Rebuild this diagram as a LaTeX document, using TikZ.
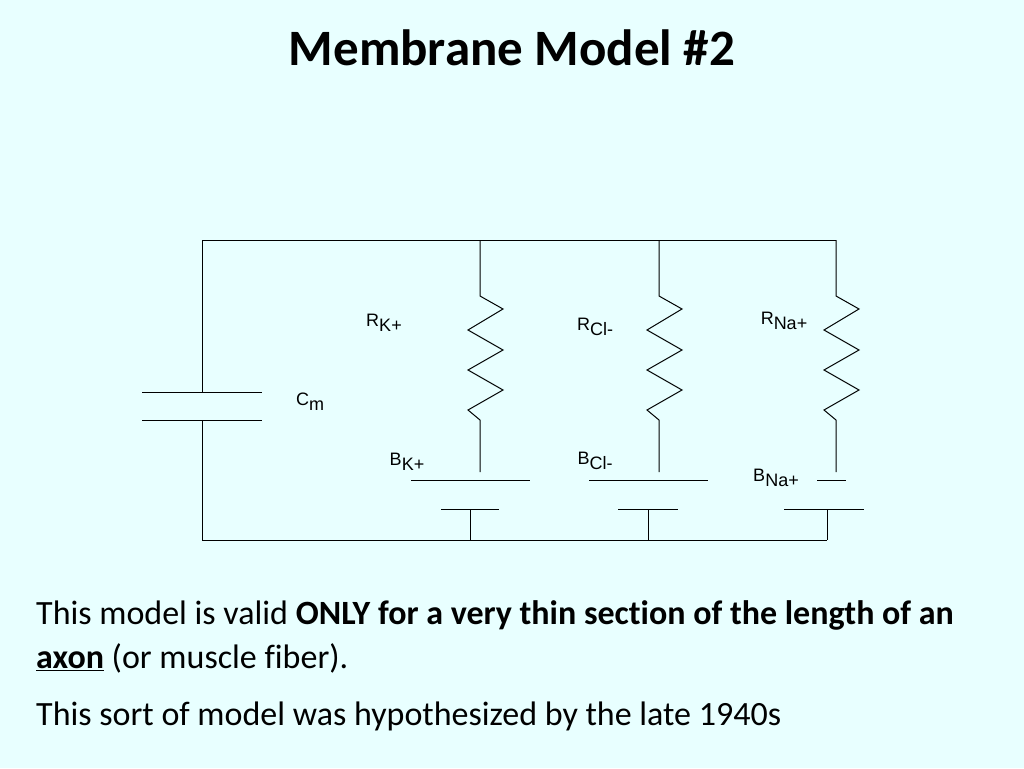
\documentclass[tikz,border=0pt]{standalone}
\usepackage{fontspec}
\setmainfont[Ligatures=NoCommon]{Carlito}
\newfontfamily\lab{Liberation Sans}
\definecolor{bg}{HTML}{E8FFFF}
\begin{document}
\begin{tikzpicture}[x=1pt,y=-1pt,
  wire/.style={line width=1pt,black},
  lbl/.style={font=\lab\fontsize{18}{18}\selectfont,inner sep=0pt},
  body/.style={font=\fontsize{34}{38}\selectfont,anchor=west,inner sep=0pt}]
\fill[bg] (0,0) rectangle (1024,768);
\useasboundingbox (0,0) rectangle (1024,768);
\node[font=\bfseries\fontsize{51}{56}\selectfont] (title) at (512,48) {Membrane Model \#2};
% main loop
\coordinate (tl) at (202,240); \coordinate (tr) at (836,240);
\coordinate (bl) at (202,540); \coordinate (br) at (827,540);
\draw[wire] (tl) -- (tr);
\draw[wire] (tl) -- (202,392);
\draw[wire] (202,420) -- (bl) -- (br);
\draw[wire] (142,392) -- (262,392);
\draw[wire] (142,420) -- (262,420);
\node[lbl] (cm) at (310,402) {C\raisebox{-0.5ex}{m}};
% branches
\foreach \x/\ll/\lr/\sl/\sr/\st/\name in {480/411/530/441/499/470/K, 659/589/708/618/678/648/C, 836/817/846/784/864/827/N}{
  \coordinate (\name t) at (\x,240);
  \draw[wire] (\name t) -- (\x,296) -- (\x+23,309) -- (\x-12,330) -- (\x+23,350) -- (\x-12,370) -- (\x+23,390) -- (\x-12,410) -- (\x,420) -- (\x,472);
  \draw[wire] (\ll,480) -- (\lr,480);
  \draw[wire] (\sl,509) -- (\sr,509);
  \draw[wire] (\st,509) -- (\st,540);
}
\node[lbl] (rk) at (384,323) {R\raisebox{-0.5ex}{K+}};
\node[lbl] (rcl) at (595,327) {R\raisebox{-0.5ex}{Cl-}};
\node[lbl] (rna) at (784,321) {R\raisebox{-0.5ex}{Na+}};
\node[lbl] (bk) at (407,462) {B\raisebox{-0.5ex}{K+}};
\node[lbl] (bcl) at (595,461) {B\raisebox{-0.5ex}{Cl-}};
\node[lbl] (bna) at (776,478) {B\raisebox{-0.5ex}{Na+}};
% text
\node[body] (t1) at (36,615) {This model is valid \textbf{ONLY for a very thin section of the length of an}};
\node[body] (t2) at (36,658) {\textbf{\underline{axon}} (or muscle fiber).};
\node[body] (t3) at (36,716) {This sort of model was hypothesized by the late 1940s};
\end{tikzpicture}
\end{document}
